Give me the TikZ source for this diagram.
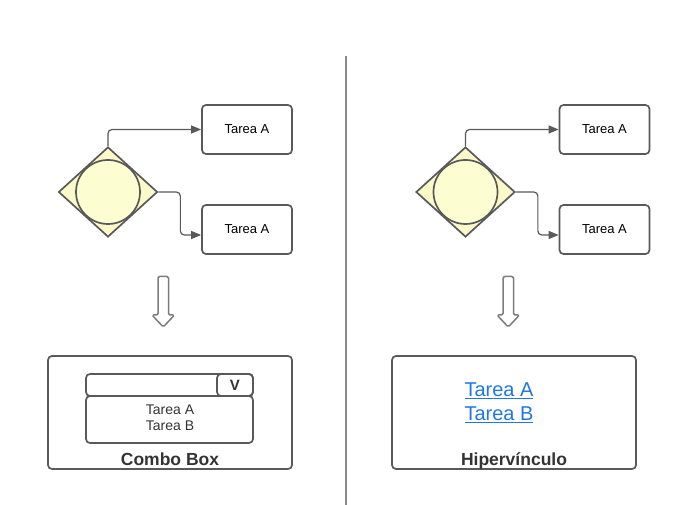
\documentclass[tikz,border=0pt]{standalone}
\usepackage{fontspec}
\setmainfont{Liberation Sans}
\usetikzlibrary{shapes.geometric,arrows.meta,calc}
\definecolor{strk}{HTML}{595959}
\definecolor{yfill}{HTML}{FBF9C9}
\definecolor{cfill}{HTML}{FDFDD2}
\definecolor{linkblue}{HTML}{1F77E6}
\definecolor{divg}{HTML}{8A8A8A}
\definecolor{txt}{HTML}{333333}
\tikzset{
  task/.style={draw=strk,line width=1.7pt,rounded corners=4pt,minimum width=90pt,minimum height=49pt,inner sep=0pt,font=\fontsize{13}{15}\selectfont,text=black},
  gate/.style={diamond,draw=strk,fill=yfill,line width=1.7pt,minimum width=99pt,minimum height=90pt,aspect=1.1,inner sep=0pt},
  gcirc/.style={circle,draw=strk,fill=cfill,line width=1.7pt,minimum size=64pt,inner sep=0pt},
  conn/.style={draw=strk,line width=1.2pt,rounded corners=4pt,-{Triangle[length=10pt,width=8pt]}},
  panel/.style={draw=strk,line width=1.7pt,rounded corners=4pt,inner sep=0pt},
  blockarrow/.style={draw=divg!90!black,line width=1.5pt,rounded corners=1.5pt,line join=round},
  ltext/.style={font=\fontsize{14}{16}\selectfont,text=txt,inner sep=0pt},
  btitle/.style={font=\fontsize{17.5}{20}\selectfont\bfseries,text=txt,inner sep=0pt},
  hlink/.style={font=\fontsize{20}{22}\selectfont,text=linkblue,inner sep=0pt}
}
\begin{document}
\begin{tikzpicture}[x=1pt,y=-1pt]
\useasboundingbox (0,0) rectangle (694,505);
% divider
\draw[divg,line width=2.2pt] (346,56) -- (346,505);

% ---------- left side ----------
\node[gate] (dL) at (108,192) {};
\node[gcirc] (cL) at (108,192) {};
\node[task] (tL1) at (247,129.5) {Tarea A};
\node[task] (tL2) at (247,229.5) {Tarea A};
\draw[conn] (dL.north) |- (tL1.west);
\coordinate (eL2) at ($(tL2.west)+(0,5.5)$);
\draw[conn] (dL.east) -- ++(22,0) |- (eL2);
\draw[blockarrow] (158,276.5) -- (168.5,276.5) -- (168.5,315) -- (174.5,315) -- (163.25,327) -- (152,315) -- (158,315) -- cycle;

\node[panel,minimum width=244pt,minimum height=113pt] (pL) at (170,412.5) {};
\node[panel,minimum width=167pt,minimum height=22pt] (bar) at (169.5,385) {};
\node[panel,minimum width=36pt,minimum height=22pt,font=\fontsize{15}{17}\selectfont\bfseries,text=txt] (vb) at (235,385) {V};
\node[panel,minimum width=167pt,minimum height=47pt] (lst) at (169.5,419.5) {};
\node[ltext] (la) at (170,410) {Tarea A};
\node[ltext] (lb) at (170,426) {Tarea B};
\node[btitle,anchor=base] (tc) at (170,465.5) {Combo Box};

% ---------- right side ----------
\node[gate] (dR) at (465.5,192) {};
\node[gcirc] (cR) at (465.5,192) {};
\node[task] (tR1) at (604.5,129.5) {Tarea A};
\node[task] (tR2) at (604.5,229.5) {Tarea A};
\draw[conn] (dR.north) |- (tR1.west);
\coordinate (eR2) at ($(tR2.west)+(0,5.5)$);
\draw[conn] (dR.east) -- ++(22,0) |- (eR2);
\draw[blockarrow] (503,276.5) -- (513.5,276.5) -- (513.5,315) -- (519.5,315) -- (508.25,327) -- (497,315) -- (503,315) -- cycle;

\node[panel,minimum width=244pt,minimum height=113pt] (pR) at (514,412.5) {};
\node[hlink] (ha) at (499,390.5) {\underline{Tarea A}};
\node[hlink] (hb) at (499,415) {\underline{Tarea B}};
\node[btitle,anchor=base] (th) at (514,465.5) {Hipervínculo};
\end{tikzpicture}
\end{document}
